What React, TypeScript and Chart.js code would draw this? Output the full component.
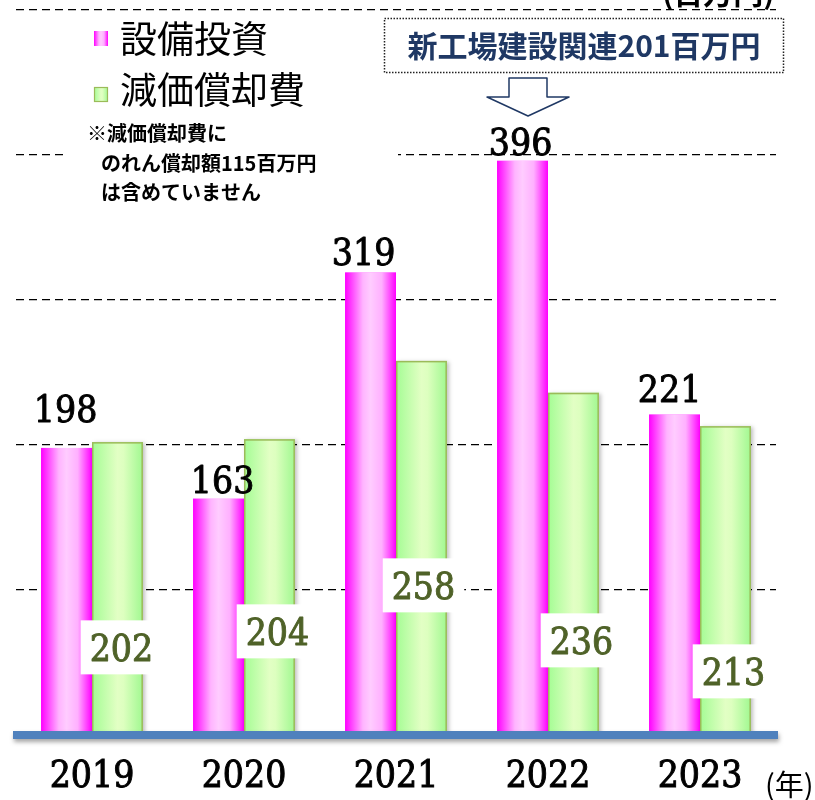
import React, { useEffect, useRef } from "react";
import { Chart, registerables } from "chart.js";

Chart.register(...registerables);

// ---- data ----
const years = ["2019", "2020", "2021", "2022", "2023"];
const capex = [198, 163, 319, 396, 221];
const depreciation = [202, 204, 258, 236, 213];
const seriesNames = ["設備投資", "減価償却費"];
const noteLines = ["※減価償却費に", "のれん償却額115百万円", "は含めていません"];
const calloutText = "新工場建設関連201百万円";
const unitText = "(百万円)";
const xUnitText = "(年)";
const yMin = 0;
const yMax = 500;
const yStep = 100;

// ---- label layout tweaks (px) ----
const capexLabelLift = [26, 6, 7, 6, 13];
const capexLabelShiftX = [-1, 4, -7, -2, -5];
const deprLabelRise = [87, 103, 149, 94, 63];
const deprLabelShiftX = [4, 8, 2, 8, 8];

const SERIF = "'DejaVu Serif Condensed', 'Liberation Serif', serif";
const NUM_SIZE = 37;
const NUM_STROKE = 0.9;
const GOTHIC = "'Noto Sans CJK JP', 'Noto Sans', sans-serif";

function magentaGrad(ctx: CanvasRenderingContext2D, left: number, width: number) {
  const g = ctx.createLinearGradient(left, 0, left + width, 0);
  g.addColorStop(0, "#FF00FF");
  g.addColorStop(0.35, "#FFB4FF");
  g.addColorStop(0.5, "#FFCCFF");
  g.addColorStop(0.72, "#FFB0FF");
  g.addColorStop(1, "#FF00FF");
  return g;
}
function greenGrad(ctx: CanvasRenderingContext2D, left: number, width: number) {
  const g = ctx.createLinearGradient(left, 0, left + width, 0);
  g.addColorStop(0, "#A4FC94");
  g.addColorStop(0.5, "#E2FFC4");
  g.addColorStop(0.62, "#DDFFBF");
  g.addColorStop(1, "#A0F890");
  return g;
}

function heavyText(ctx: CanvasRenderingContext2D, txt: string, x: number, y: number, color: string) {
  ctx.fillStyle = color;
  ctx.strokeStyle = color;
  ctx.lineWidth = NUM_STROKE;
  ctx.lineJoin = "round";
  ctx.fillText(txt, x, y);
  ctx.strokeText(txt, x, y);
}

const decor = {
  id: "decor",
  beforeDatasetsDraw(chart: any) {
    const ctx: CanvasRenderingContext2D = chart.ctx;
    ctx.save();
    // white panel behind legend & note
    ctx.fillStyle = "#fff";
    ctx.fillRect(66, 20, 332, 190);
    // legend
    ctx.fillStyle = magentaGrad(ctx, 94, 14);
    ctx.fillRect(94, 31, 14, 15);
    ctx.fillStyle = greenGrad(ctx, 94, 14);
    ctx.fillRect(94, 87, 14, 15);
    ctx.strokeStyle = "#9BBB59";
    ctx.lineWidth = 1.2;
    ctx.strokeRect(94.5, 87.5, 13, 14);
    ctx.fillStyle = "#000";
    ctx.font = `37px ${GOTHIC}`;
    ctx.textAlign = "left";
    ctx.textBaseline = "middle";
    ctx.fillText(seriesNames[0], 120, 39);
    ctx.fillText(seriesNames[1], 120, 90);
    // note
    ctx.font = `bold 20px ${GOTHIC}`;
    ctx.fillText(noteLines[0], 87, 133);
    ctx.fillText(noteLines[1], 101, 163);
    ctx.fillText(noteLines[2], 101, 192);
    ctx.restore();
  },
  afterDatasetsDraw(chart: any) {
    const ctx: CanvasRenderingContext2D = chart.ctx;
    const area = chart.chartArea;
    const yScale = chart.scales.y;
    ctx.save();
    // gradient bars
    chart.data.datasets.forEach((ds: any, di: number) => {
      const meta = chart.getDatasetMeta(di);
      meta.data.forEach((el: any) => {
        const { x, y, base, width } = el.getProps(["x", "y", "base", "width"], true);
        const left = x - width / 2;
        if (di === 1) {
          ctx.save();
          ctx.shadowColor = "rgba(0,0,0,0.25)";
          ctx.shadowBlur = 4;
          ctx.shadowOffsetX = 2;
          ctx.shadowOffsetY = 1;
          ctx.fillStyle = greenGrad(ctx, left, width);
          ctx.fillRect(left, y, width, base - y);
          ctx.restore();
          ctx.strokeStyle = "#9BBB59";
          ctx.lineWidth = 1.5;
          ctx.strokeRect(left + 0.75, y + 0.75, width - 1.5, base - y);
        } else {
          ctx.fillStyle = magentaGrad(ctx, left, width);
          ctx.fillRect(left, y, width, base - y);
        }
      });
    });
    // baseline
    const y0 = yScale.getPixelForValue(0);
    ctx.save();
    ctx.shadowColor = "rgba(0,0,0,0.35)";
    ctx.shadowBlur = 4;
    ctx.shadowOffsetY = 3;
    ctx.shadowOffsetX = 1;
    ctx.fillStyle = "#4F81BD";
    ctx.fillRect(area.left - 3, y0 - 4, area.right - area.left + 5, 8);
    ctx.restore();

    // capex labels
    const m0 = chart.getDatasetMeta(0);
    ctx.font = `${NUM_SIZE}px ${SERIF}`;
    ctx.textAlign = "center";
    ctx.textBaseline = "alphabetic";
    m0.data.forEach((el: any, i: number) => {
      const { x, y } = el.getProps(["x", "y"], true);
      heavyText(ctx, String(capex[i]), x + capexLabelShiftX[i], y - capexLabelLift[i], "#000");
    });
    // depreciation labels
    const m1 = chart.getDatasetMeta(1);
    m1.data.forEach((el: any, i: number) => {
      const { x, base } = el.getProps(["x", "base"], true);
      const cx = x + deprLabelShiftX[i];
      const cy = base - deprLabelRise[i];
      const txt = String(depreciation[i]);
      const w = ctx.measureText(txt).width + 18;
      ctx.fillStyle = "#fff";
      ctx.fillRect(cx - w / 2, cy - 27, w, 54);
      heavyText(ctx, txt, cx, cy + 14, "#4F6228");
    });

    // callout box
    ctx.fillStyle = "#fff";
    ctx.fillRect(384, 18, 400, 55);
    ctx.setLineDash([1.5, 1.5]);
    ctx.strokeStyle = "#222";
    ctx.lineWidth = 1.5;
    ctx.strokeRect(384.5, 18.5, 399, 54);
    ctx.setLineDash([]);
    ctx.fillStyle = "#1F3864";
    ctx.font = `bold 30px ${GOTHIC}`;
    ctx.textAlign = "center";
    ctx.textBaseline = "middle";
    ctx.fillText(calloutText, 584, 46);
    // arrow
    ctx.beginPath();
    ctx.moveTo(509, 78);
    ctx.lineTo(547, 78);
    ctx.lineTo(547, 97);
    ctx.lineTo(569, 97);
    ctx.lineTo(528, 116);
    ctx.lineTo(487, 97);
    ctx.lineTo(509, 97);
    ctx.closePath();
    ctx.fillStyle = "#fff";
    ctx.fill();
    ctx.strokeStyle = "#1F3864";
    ctx.lineWidth = 1.5;
    ctx.stroke();

    // unit texts
    ctx.fillStyle = "#000";
    ctx.textAlign = "left";
    ctx.textBaseline = "alphabetic";
    ctx.font = `bold 30px ${GOTHIC}`;
    ctx.fillText(unitText, 662, 4);
    ctx.font = `29px ${GOTHIC}`;
    ctx.textBaseline = "middle";
    ctx.fillText(xUnitText, 765, 785);
    ctx.restore();
  },
};

export default function App() {
  const ref = useRef<HTMLCanvasElement | null>(null);
  useEffect(() => {
    if (!ref.current) return;
    const chart = new Chart(ref.current, {
      type: "bar",
      data: {
        labels: years,
        datasets: [
          { label: seriesNames[0], data: capex, backgroundColor: "#FF66FF", borderWidth: 0 },
          { label: seriesNames[1], data: depreciation, backgroundColor: "#C8FFB0", borderWidth: 0 },
        ],
      },
      options: {
        responsive: false,
        animation: false,
        devicePixelRatio: 1,
        layout: { padding: { left: 16, right: 39, top: 10, bottom: 1 } },
        datasets: { bar: { categoryPercentage: 0.67, barPercentage: 1 } },
        plugins: { legend: { display: false }, tooltip: { enabled: false } },
        scales: {
          x: {
            grid: { display: false },
            border: { display: false },
            ticks: {
              color: "#000",
              font: { family: SERIF, size: NUM_SIZE },
              padding: 12,
              textStrokeColor: "#000",
              textStrokeWidth: NUM_STROKE,
            },
            afterFit: (scale: any) => {
              scale.height = 64;
            },
          },
          y: {
            min: yMin,
            max: yMax,
            ticks: { display: false, stepSize: yStep },
            grid: { color: "#000", lineWidth: 1.3, drawTicks: false },
            border: { display: false, dash: [8, 5] },
          },
        },
      },
      plugins: [decor],
    } as any);
    return () => chart.destroy();
  }, []);
  return (
    <div style={{ position: "fixed", left: 0, top: 0, width: 815, height: 800, background: "#fff" }}>
      <canvas ref={ref} width={815} height={800} />
    </div>
  );
}
